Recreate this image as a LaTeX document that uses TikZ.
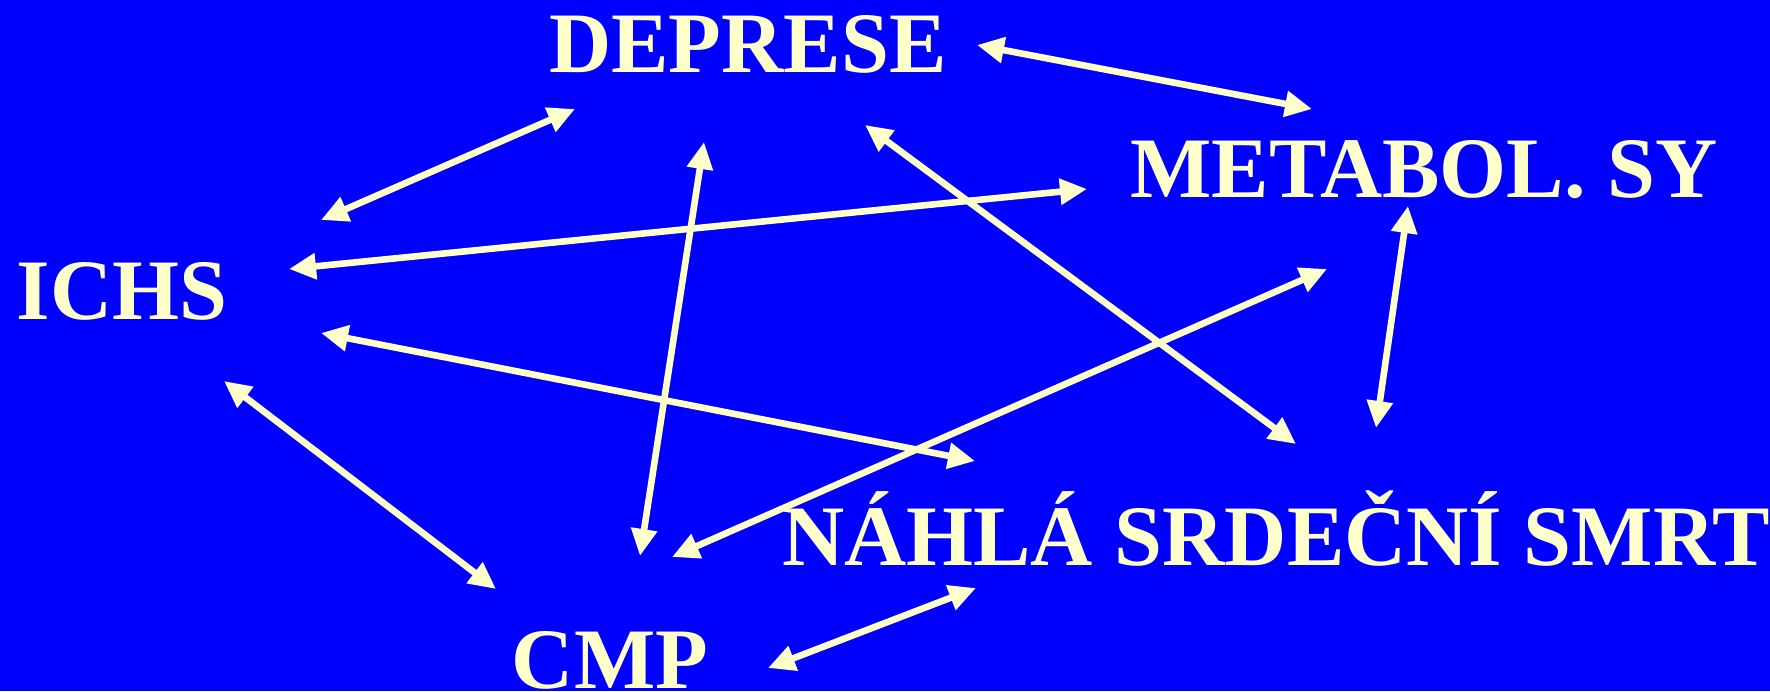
\documentclass[tikz,border=0pt]{standalone}
\usepackage{fontspec}
\setmainfont{Liberation Serif}
\usetikzlibrary{arrows.meta,calc}
\definecolor{bgblue}{HTML}{0000FF}
\definecolor{ink}{HTML}{FFFFCC}
\tikzset{
  lbl/.style={anchor=base, inner sep=0pt, text=ink, font=\fontsize{24.5pt}{29pt}\selectfont\bfseries},
  link/.style={draw=ink, line width=0.066cm, {Triangle[length=0.27cm,width=0.25cm]}-{Triangle[length=0.27cm,width=0.25cm]}}
}
\begin{document}
\begin{tikzpicture}[x=0.01cm,y=-0.01cm]
\fill[bgblue] (0,0) rectangle (1770,691);
\useasboundingbox (0,0) rectangle (1770,691);
\node[lbl] (dep) at (748,73) {DEPRESE};
\node[lbl] (met) at (1424,197) {METABOL. SY};
\node[lbl] (ichs) at (122,319) {ICHS};
\node[lbl] (nss) at (1276,565) {NÁHLÁ SRDEČNÍ SMRT};
\node[lbl] (cmp) at (610,688) {CMP};
\draw[link] ($(dep.base)+(-173,36)$) -- ($(ichs.base)+(199,-99)$);
\draw[link] ($(dep.base)+(229,-28)$) -- ($(met.base)+(-112,-88)$);
\draw[link] ($(dep.base)+(-44,69)$) -- ($(cmp.base)+(30,-132)$);
\draw[link] ($(dep.base)+(117,52)$) -- ($(nss.base)+(20,-121)$);
\draw[link] ($(ichs.base)+(167,-50)$) -- ($(met.base)+(-337,-8)$);
\draw[link] ($(ichs.base)+(199,14)$) -- ($(nss.base)+(-301,-104)$);
\draw[link] ($(ichs.base)+(102,62)$) -- ($(cmp.base)+(-114,-99)$);
\draw[link] ($(met.base)+(-97,72)$) -- ($(cmp.base)+(62,-131)$);
\draw[link] ($(met.base)+(-16,9)$) -- ($(nss.base)+(100,-137)$);
\draw[link] ($(cmp.base)+(158,-20)$) -- ($(nss.base)+(-300,23)$);
\end{tikzpicture}
\end{document}
